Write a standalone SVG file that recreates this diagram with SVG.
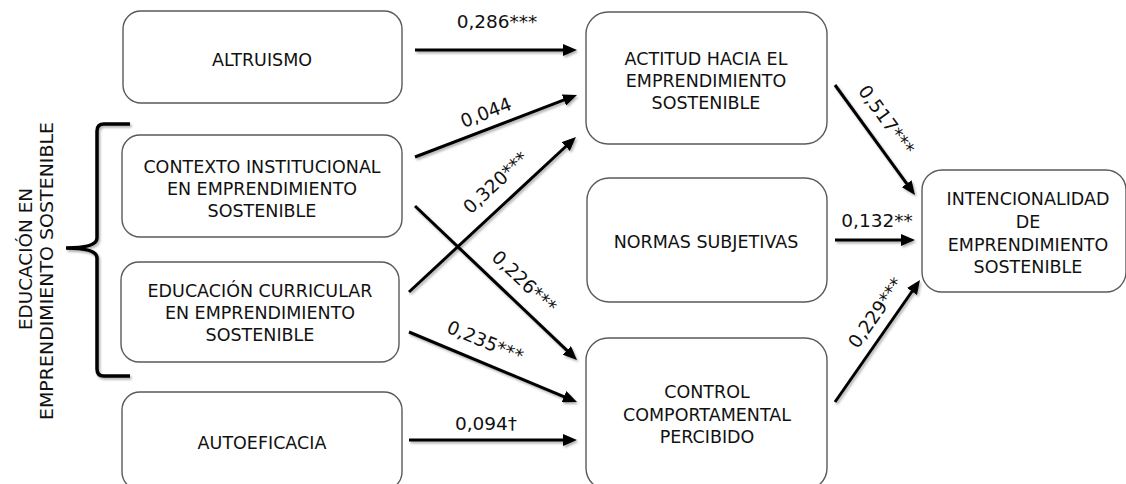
<svg xmlns="http://www.w3.org/2000/svg" width="1126" height="484" viewBox="0 0 1126 484">
<style>
.box{fill:#fff;stroke:#5a5a5a;stroke-width:1.4}
.t{font-family:"DejaVu Sans",Verdana,sans-serif;font-size:17.5px;fill:#111;text-anchor:middle}
.lbl{font-family:"DejaVu Sans",Verdana,sans-serif;font-size:18.5px;fill:#111;text-anchor:middle}
.arr{fill:none;stroke:#000;stroke-width:3;marker-end:url(#ah);filter:url(#sh)}
</style>
<defs>
<marker id="ah" viewBox="0 0 14 12" refX="3" refY="6" markerWidth="14" markerHeight="12" markerUnits="userSpaceOnUse" orient="auto">
<path d="M0,0 L14,6 L0,12 z" fill="#000"/>
</marker>
<filter id="sh" filterUnits="userSpaceOnUse" x="0" y="0" width="1126" height="484">
<feDropShadow dx="1.5" dy="2" stdDeviation="1.2" flood-color="#000" flood-opacity="0.3"/>
</filter>
</defs>
<rect width="1126" height="484" fill="#fff"/>

<g id="grupo-educacion">
<path d="M130,124 L104,124 Q97,124 97,131 L97,238 Q97,248 66,248 Q97,248 97,258 L97,369 Q97,376 104,376 L130,376" fill="none" stroke="#000" stroke-width="3.5" filter="url(#sh)"/>
<text class="t" transform="translate(32,259) rotate(-90)" textLength="142" lengthAdjust="spacingAndGlyphs">EDUCACIÓN EN</text>
<text class="t" transform="translate(53,271) rotate(-90)" textLength="298" lengthAdjust="spacingAndGlyphs">EMPRENDIMIENTO SOSTENIBLE</text>
</g>

<g id="altruismo">
<rect class="box" x="123" y="11" width="279" height="92" rx="18"/>
<text class="t" x="262" y="66">ALTRUISMO</text>
</g>
<g id="contexto">
<rect class="box" x="122" y="135" width="280" height="102" rx="18"/>
<text class="t" x="262" y="173">CONTEXTO INSTITUCIONAL</text>
<text class="t" x="262" y="195">EN EMPRENDIMIENTO</text>
<text class="t" x="262" y="217">SOSTENIBLE</text>
</g>
<g id="educacion-curricular">
<rect class="box" x="121" y="262" width="278" height="100" rx="18"/>
<text class="t" x="260" y="297">EDUCACIÓN CURRICULAR</text>
<text class="t" x="260" y="319">EN EMPRENDIMIENTO</text>
<text class="t" x="260" y="341">SOSTENIBLE</text>
</g>
<g id="autoeficacia">
<rect class="box" x="122" y="392" width="280" height="98" rx="18"/>
<text class="t" x="262" y="449">AUTOEFICACIA</text>
</g>
<g id="actitud">
<rect class="box" x="586" y="12" width="241" height="132" rx="22"/>
<text class="t" x="706" y="65">ACTITUD HACIA EL</text>
<text class="t" x="706" y="87">EMPRENDIMIENTO</text>
<text class="t" x="706" y="109">SOSTENIBLE</text>
</g>
<g id="normas">
<rect class="box" x="587" y="178" width="240" height="124" rx="22"/>
<text class="t" x="706" y="248">NORMAS SUBJETIVAS</text>
</g>
<g id="control">
<rect class="box" x="586" y="338" width="241" height="152" rx="22"/>
<text class="t" x="707" y="398">CONTROL</text>
<text class="t" x="707" y="421">COMPORTAMENTAL</text>
<text class="t" x="707" y="443">PERCIBIDO</text>
</g>
<g id="intencionalidad">
<rect class="box" x="922" y="170" width="204" height="122" rx="20"/>
<text class="t" x="1028" y="205">INTENCIONALIDAD</text>
<text class="t" x="1028" y="228">DE</text>
<text class="t" x="1028" y="251">EMPRENDIMIENTO</text>
<text class="t" x="1028" y="273">SOSTENIBLE</text>
</g>

<g id="conectores">
<path class="arr" d="M415,50 L566,50"/>
<path class="arr" d="M415,157 L566.7,98.9"/>
<path class="arr" d="M409,292 L567.9,144.5"/>
<path class="arr" d="M415,206 L569,352.4"/>
<path class="arr" d="M409,332 L566.8,397.8"/>
<path class="arr" d="M409,440 L566,440"/>
<path class="arr" d="M835,85 L908.5,186.1"/>
<path class="arr" d="M835,240 L904,240"/>
<path class="arr" d="M835,402 L913.7,289"/>

<text class="lbl" x="497" y="28">0,286***</text>
<text class="lbl" transform="translate(486,113) rotate(-20.9)" y="6">0,044</text>
<text class="lbl" transform="translate(496,183) rotate(-42.9)" y="6">0,320***</text>
<text class="lbl" transform="translate(524,282) rotate(43.5)" y="6">0,226***</text>
<text class="lbl" transform="translate(485,342) rotate(22.6)" y="6">0,235***</text>
<text class="lbl" x="486" y="430">0,094†</text>
<text class="lbl" transform="translate(886,120) rotate(54)" y="6">0,517***</text>
<text class="lbl" x="877" y="227">0,132**</text>
<text class="lbl" transform="translate(876,313) rotate(-55)" y="6">0,229***</text>
</g>
</svg>
